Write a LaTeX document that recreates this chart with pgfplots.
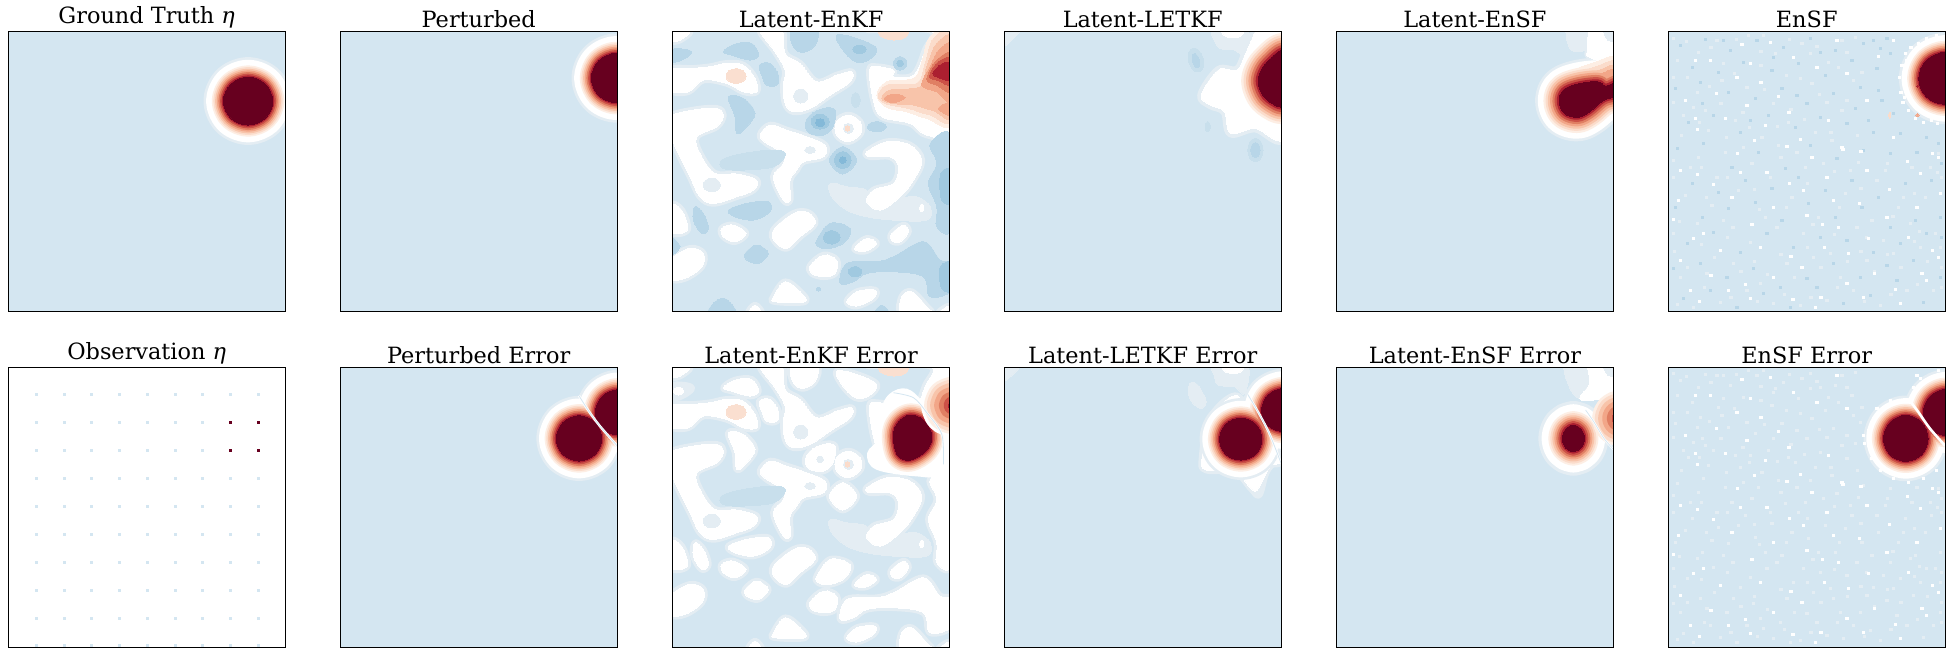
\documentclass[border=0pt]{standalone}
\usepackage{fontspec}
\setmainfont{DejaVu Serif}
\usepackage{pgfplots}
\usepackage{pgfplotstable}
\pgfplotsset{compat=1.18}
\definecolor{bg}{RGB}{212,230,241}
\definecolor{pl}{RGB}{228,237,243}
\definecolor{ra}{RGB}{253,238,228}
\definecolor{rb}{RGB}{251,220,203}
\definecolor{rc}{RGB}{248,196,170}
\definecolor{rd}{RGB}{242,166,136}
\definecolor{re}{RGB}{224,127,99}
\definecolor{rf}{RGB}{204,81,71}
\definecolor{rg}{RGB}{171,31,48}
\definecolor{rh}{RGB}{103,0,31}
\definecolor{ba}{RGB}{200,223,236}
\definecolor{bb}{RGB}{184,214,232}
\definecolor{bc}{RGB}{160,201,224}
\definecolor{bd}{RGB}{132,185,216}
\definecolor{pk}{RGB}{250,223,208}

\def\levels{pl/60,white/52,ra/35,rb/30,rc/25,rd/20,re/15,rf/10,rg/5,rh/0}
\def\redlevels{ra/35,rb/30,rc/25,rd/20,re/15,rf/10,rg/5,rh/0}

% small ellipse, radii in units of a third of a pixel
\newcommand{\disc}[6]{%
  \pgfmathsetmacro\sx{#3/3}\pgfmathsetmacro\sy{#4/3}%
  \edef\tmp{\noexpand\addplot[forget plot,only marks,mark=*,mark size=1pt,
    mark options={draw=#6,fill=#6,line width=0pt,rotate=#5,xscale=\sx,yscale=\sy}] coordinates {(#1,#2)};}\tmp}
% filled contour: colour, outward offset (third of a pixel), outline
\newcommand{\fillpoly}[3]{%
  \pgfmathsetmacro\lw{2*#2/3}%
  \edef\tmp{\noexpand\addplot[forget plot,smooth cycle,tension=0.6,mark=none,fill=#1,draw=#1,
    line join=round,line width=\lw pt] coordinates {#3};}\tmp}
\newcommand{\fillall}[3]{\foreach \p in {#3} {\fillpoly{#1}{#2}{\p}}}
\newcommand{\fillW}[2]{\foreach \p in \Wlist {\fillpoly{#1}{#2}{\p}}}
\newcommand{\polylevels}[2]{%
  \foreach \c/\e in \redlevels {\pgfmathsetmacro\ee{\e*#2}\fillpoly{\c}{\ee}{#1}}}
% whole peaks with their rings, level by level
\newcommand{\peaks}[2]{%
  \foreach \c/\e in \levels {\pgfmathsetmacro\ee{\e*#2}\foreach \q in {#1} {\fillpoly{\c}{\ee}{\q}}}}
\newcommand{\fade}[2]{\foreach \c/\e in {#2} {\fillpoly{\c}{\e}{#1}}}
\newcommand{\midline}[3]{%
  \addplot[forget plot,smooth,mark=none,white,line width=#1pt] coordinates {#3};
  \addplot[forget plot,smooth,mark=none,bg,line width=#2pt] coordinates {#3};}

% white patches of the Latent-EnKF field
\def\Wa{(30,30)(90,33)(60,60)(30,62)}
\def\Wb{(30,150)(100,145)(150,140)(200,130)(250,135)(285,175)(290,215)(250,215)(200,190)(130,180)(85,215)(30,210)}
\def\Wc{(300,30)(365,30)(375,100)(420,130)(470,185)(530,165)(575,155)(570,185)(510,225)(450,265)(400,275)(375,250)(370,195)(375,150)(345,95)}
\def\Wd{(625,30)(810,30)(795,90)(760,165)(700,170)(700,150)(650,140)(628,150)(640,240)(665,290)(750,310)(800,345)(875,325)(875,30)}
\def\We{(30,290)(100,270)(170,265)(190,285)(170,320)(110,350)(120,400)(165,460)(230,462)(290,480)(280,510)(230,530)(160,550)(120,530)(90,470)(60,410)(30,340)}
\def\Wf{(300,345)(330,315)(380,330)(440,350)(495,375)(490,410)(430,425)(410,450)(390,480)(390,540)(370,540)(340,470)(370,430)(370,400)(320,370)}
\def\Wg{(565,285)(600,305)(602,340)(565,365)(530,345)(528,305)}
\def\Wh{(620,395)(680,365)(750,375)(785,420)(760,480)(720,530)(660,570)(620,545)(640,510)(700,490)(715,440)(690,410)(630,410)}
\def\Wi{(30,555)(65,570)(82,630)(30,635)}
\def\Wj{(185,625)(220,615)(258,640)(225,665)(190,650)}
\def\Wk{(340,630)(400,580)(445,578)(465,610)(420,650)(380,685)(345,665)}
\def\Wl{(695,640)(730,615)(745,635)(720,665)(695,662)}
\def\Wm{(585,680)(620,655)(650,670)(620,692)(590,692)}
\def\Wn{(30,720)(90,685)(130,700)(125,740)(75,775)(30,775)}
\def\Wo{(450,737)(490,705)(530,720)(525,760)(490,770)(455,760)}
\def\Wp{(340,830)(375,785)(420,815)(435,845)(345,845)}
\def\Wq{(560,845)(590,815)(645,810)(640,835)(590,858)}
\def\Wr{(725,880)(725,830)(755,815)(800,860)(810,880)}
\def\Ws{(265,880)(285,855)(305,880)}
\def\Wt{(780,555)(790,555)(790,572)(780,572)}
\def\Wu{(835,880)(860,860)(875,860)(875,880)}
\def\Wlist{\Wa,\Wb,\Wc,\Wd,\We,\Wf,\Wg,\Wh,\Wi,\Wj,\Wk,\Wl,\Wm,\Wn,\Wo,\Wp,\Wq,\Wr,\Ws,\Wt,\Wu}
% light-blue patches of the same field
\def\Ba{(395,30)(470,30)(465,75)(430,97)(400,80)}
\def\Bb{(530,45)(590,55)(650,85)(625,120)(585,125)(545,85)}
\def\Bc{(190,95)(225,72)(275,70)(295,105)(270,120)(215,105)}
\def\Bd{(30,90)(75,88)(95,98)(65,120)(30,125)}
\def\Be{(298,135)(330,130)(355,165)(350,195)(320,195)(305,165)}
\def\Bf{(205,230)(250,235)(285,280)(255,325)(230,340)(225,290)}
\def\Bg{(435,315)(450,285)(490,265)(525,270)(518,320)(490,345)(450,340)}
\def\Bh{(548,380)(590,420)(548,462)(508,420)}
\def\Bi{(205,570)(260,550)(325,545)(330,575)(280,600)(225,590)}
\def\Bj{(105,560)(130,580)(145,625)(125,640)(100,600)}
\def\Bk{(470,660)(510,610)(570,625)(555,665)(510,685)(475,680)}
\def\Bl{(255,700)(290,675)(325,700)(295,730)(260,720)}
\def\Bm{(540,790)(560,730)(650,725)(700,710)(790,665)(840,720)(875,730)(875,810)(810,830)(790,770)(700,755)(620,760)(580,785)}
\def\Bn{(810,370)(875,350)(875,620)(830,620)(830,560)(805,490)(830,430)}
\def\Bo{(145,885)(165,845)(200,838)(228,885)}
\def\Bp{(640,885)(665,855)(690,885)}
\def\Bq{(30,650)(60,680)(30,705)}
\def\Bband{(185,420)(250,400)(350,390)(375,405)(340,440)(250,450)(190,445)}
\def\Pa{(510,490)(560,500)(620,510)(625,545)(660,575)(710,540)(770,530)(810,560)(800,600)(700,600)(620,590)(560,570)(515,530)}
\def\Tp{(655,30)(700,28)(742,30)(735,52)(700,60)(665,50)}

% speckle of the EnSF fields, read off by eye
\pgfplotstableread[row sep=\\]{x y\\
105 120\\230 172\\302 186\\104 295\\110 327\\315 316\\282 360\\232 400\\545 380\\548 388\\420 358\\380 378\\60 450\\110 462\\388 490\\55 540\\40 596\\597 550\\
152 766\\255 792\\270 835\\398 838\\118 843\\465 860\\482 830\\642 760\\392 708\\492 680\\487 612\\535 620\\440 585\\720 850\\705 808\\818 690\\835 712\\785 760\\
800 780\\818 398\\835 412\\742 422\\602 392\\688 508\\386 275\\260 256\\245 72\\330 66\\168 218\\75 240\\195 295\\355 228\\470 142\\560 158\\
505 300\\455 410\\160 492\\215 530\\340 560\\275 612\\100 655\\180 690\\60 720\\130 640\\340 770\\425 742\\565 700\\625 655\\680 590\\770 560\\840 520\\745 650\\
610 830\\560 790\\205 810\\90 810\\300 680\\240 455\\320 455\\500 470\\620 450\\780 460\\520 540\\430 510\\150 120\\400 110\\530 60\\270 130\\
}\SpeckWhite
\pgfplotstableread[row sep=\\]{x y\\
60 75\\135 58\\210 90\\290 60\\370 82\\450 55\\525 90\\95 140\\175 155\\250 125\\335 150\\415 130\\495 165\\575 120\\45 205\\
125 250\\205 215\\285 235\\365 205\\440 250\\520 220\\600 200\\85 305\\160 285\\240 335\\325 285\\405 320\\480 290\\560 310\\
50 385\\130 370\\215 440\\295 395\\375 445\\450 375\\530 415\\610 390\\690 400\\770 395\\845 430\\95 490\\175 515\\255 480\\335 505\\415 470\\495 510\\575 480\\
655 530\\735 490\\815 480\\45 560\\125 590\\205 565\\285 545\\365 600\\445 550\\525 590\\605 560\\690 620\\765 600\\840 590\\80 670\\160 635\\240 695\\320 640\\
400 680\\480 650\\560 660\\640 695\\720 670\\800 640\\40 745\\120 730\\200 770\\280 745\\360 800\\440 775\\520 730\\600 770\\680 735\\760 720\\840 770\\
70 835\\150 810\\230 860\\310 820\\390 860\\470 800\\550 850\\630 825\\710 780\\790 845\\843 650\\190 60\\340 110\\480 95\\120 185\\270 300\\410 225\\585 265\\
}\SpeckBlue
\pgfplotstableread[row sep=\\]{x y\\
40 55\\115 95\\190 130\\265 45\\345 100\\425 70\\505 125\\585 50\\38 170\\110 215\\185 180\\260 200\\340 250\\420 175\\500 245\\580 180\\
70 285\\145 330\\225 300\\305 350\\385 305\\465 335\\545 270\\38 420\\115 410\\195 395\\275 430\\355 375\\435 440\\515 360\\595 425\\675 450\\755 440\\835 400\\
75 525\\155 555\\235 510\\315 590\\395 530\\475 590\\555 520\\635 600\\715 560\\795 530\\843 470\\38 640\\110 610\\190 600\\270 665\\350 620\\430 640\\510 700\\590 620\\670 660\\750 610\\825 640\\
60 770\\140 760\\220 730\\300 790\\380 730\\460 710\\540 770\\620 720\\700 700\\780 680\\843 740\\100 860\\180 845\\260 810\\340 850\\420 855\\500 840\\580 810\\660 855\\740 810\\820 810\\
90 440\\170 470\\250 380\\330 470\\410 395\\490 430\\570 450\\650 480\\730 530\\810 440\\170 60\\310 45\\450 100\\560 95\\50 120\\135 270\\
78 62\\152 82\\228 58\\302 92\\388 58\\470 78\\545 60\\82 172\\148 198\\222 160\\302 135\\378 165\\455 188\\535 140\\605 155\\38 245\\
98 262\\182 248\\248 275\\312 208\\392 268\\478 222\\560 240\\62 345\\118 305\\198 352\\268 322\\352 318\\432 298\\512 335\\592 345\\
38 472\\122 440\\202 472\\282 508\\362 412\\442 488\\522 452\\602 505\\682 428\\762 520\\832 455\\58 602\\138 532\\218 622\\298 568\\378 560\\458 612\\538 562\\618 652\\698 588\\778 632\\
42 692\\122 672\\202 652\\282 722\\362 702\\442 682\\522 642\\602 692\\682 702\\762 662\\842 682\\82 742\\162 712\\242 752\\322 762\\402 772\\482 742\\562 722\\642 752\\722 742\\802 722\\
52 852\\132 802\\212 832\\292 842\\372 822\\452 832\\532 802\\612 842\\692 822\\772 792\\843 802\\
}\SpeckPale
% the corner by the peak, one list for each EnSF panel
\pgfplotstableread[row sep=\\]{x y\\
752 80\\735 100\\725 135\\718 170\\722 215\\728 245\\745 270\\765 295\\790 305\\815 300\\832 308\\775 70\\800 55\\830 45\\738 120\\732 230\\655 108\\620 240\\700 60\\700 350\\
}\RimTop
\pgfplotstableread[row sep=\\]{x y\\
650 145\\665 240\\640 335\\610 68\\680 55\\690 100\\625 300\\660 85\\655 210\\700 280\\640 60\\720 340\\800 350\\835 370\\
}\CornerTop
\pgfplotstableread[row sep=\\]{x y\\
640 190\\625 225\\612 265\\635 310\\660 345\\700 370\\745 380\\790 368\\830 345\\780 70\\760 95\\650 160\\690 135\\770 60\\835 45\\610 240\\
}\RimBottom

\pgfplotsset{pan/.style={scale only axis,width=276.8pt,height=280pt,xtick=\empty,ytick=\empty,
  y dir=reverse,enlargelimits=false,axis on top,clip mode=global,axis background/.style={fill=bg},
  axis line style={line width=0.9pt,black},
  title style={font=\fontsize{22.4}{24}\selectfont,yshift=-5.5pt}}}
\newcommand{\speck}[2]{\addplot[forget plot,only marks,mark=square*,mark size=1.08pt,
  mark options={draw=#1,fill=#1,line width=0.1pt}] table[x=x,y=y] {#2};}

\begin{document}
\begin{tikzpicture}[x=1pt,y=1pt]
\path[use as bounding box] (0,0) rectangle (1948,649);

% ---- top row ----
\begin{axis}[pan,at={(8.3pt,337.3pt)},title={Ground Truth {\itshape η}},xmin=0,xmax=830,ymin=0,ymax=840]
\def\Pp{(793,208)(771,157)(719,136)(667,157)(645,208)(667,259)(719,280)(771,259)}
\peaks{\Pp}{1}
\end{axis}
\begin{axis}[pan,at={(340.3pt,337.3pt)},title={Perturbed},xmin=0,xmax=830,ymin=0,ymax=840]
\def\Pp{(901,139)(879,87)(827,65)(775,87)(753,139)(775,191)(827,213)(879,191)}
\peaks{\Pp}{1}
\end{axis}

\begin{axis}[pan,at={(672.7pt,337.3pt)},title={Latent-EnKF},xmin=38,xmax=868,ymin=35,ymax=875]
\fillW{pl}{10}
\fillpoly{pl}{0}{\Pa}
\fillW{white}{0}
\fillpoly{ba}{0}{\Bband}
\fillall{bb}{0}{\Ba,\Bb,\Bc,\Bd,\Be,\Bf,\Bg,\Bh,\Bi,\Bj,\Bk,\Bl,\Bm,\Bn,\Bo,\Bp,\Bq}
\fillpoly{bc}{0}{(840,740)(880,730)(880,810)(845,805)}
\fillpoly{bc}{0}{(842,460)(880,450)(880,545)(845,540)}
\fillpoly{pk}{0}{\Tp}
\fillpoly{ra}{0}{(650,225)(680,185)(760,175)(785,125)(810,50)(880,30)(880,305)(800,295)(740,275)(680,262)}
\fillpoly{rb}{0}{(655,230)(680,195)(770,190)(795,130)(820,55)(880,40)(880,295)(810,285)(745,265)(680,252)}
\fillpoly{rc}{0}{(665,235)(690,210)(780,200)(800,140)(830,70)(880,60)(880,285)(820,272)(760,255)(695,250)}
\fillpoly{rd}{0}{(672,235)(700,222)(735,232)(700,248)}
\fillpoly{rd}{0}{(835,265)(880,245)(880,290)}
\fillpoly{rd}{0}{(785,195)(812,135)(838,88)(880,78)(880,245)(830,215)}
\fillpoly{re}{0}{(800,178)(828,122)(880,100)(880,215)(830,195)}
\fillpoly{rf}{0}{(808,168)(835,125)(880,115)(880,195)(835,182)}
\fillpoly{rg}{0}{(818,160)(845,132)(880,130)(880,180)(842,175)}
\disc{422}{228}{21}{21}{0}{pl}
\disc{155}{495}{26}{20}{0}{pl}
\disc{450}{390}{16}{10}{0}{pl}
\disc{565}{325}{15}{15}{0}{pl}
\disc{587}{240}{13}{22}{0}{ba}
\disc{598}{88}{20}{12}{0}{bc}
\disc{480}{305}{27}{22}{0}{bc}
\disc{480}{308}{14}{12}{0}{bd}
\disc{548}{420}{25}{25}{0}{bc}
\disc{548}{420}{10}{10}{0}{bd}
\disc{650}{320}{28}{15}{0}{bb}
\disc{720}{130}{20}{20}{0}{bb}
\disc{720}{130}{10}{10}{0}{bc}
\disc{515}{652}{25}{20}{0}{bc}
\disc{585}{755}{20}{15}{0}{bc}
\disc{475}{807}{6}{6}{0}{bb}
\disc{228}{168}{30}{22}{0}{pk}
\disc{562}{325}{7}{8}{0}{rb}
\end{axis}

\begin{axis}[pan,at={(1004.3pt,337.3pt)},title={Latent-LETKF},xmin=35,xmax=714,ymin=35,ymax=875]
\fillpoly{pl}{0}{(25,25)(75,25)(40,75)(25,75)}
\fillpoly{pl}{0}{(548,25)(630,25)(625,105)(600,90)(565,85)(550,60)}
\fillpoly{pl}{12}{(660,25)(725,25)(725,345)(650,325)(590,340)(575,275)(540,255)(518,225)(560,150)(605,150)(625,105)(640,65)}
\fillpoly{white}{0}{(660,25)(725,25)(725,345)(650,325)(590,340)(575,275)(540,255)(518,225)(560,150)(605,150)(625,105)(640,65)}
\fillpoly{white}{0}{(570,30)(620,30)(612,50)(580,50)}
\def\Pd{(725,90)(680,125)(660,165)(660,200)(680,240)(725,258)(760,170)}
\polylevels{\Pd}{1.45}
\disc{505}{120}{22}{37}{15}{ba}
\disc{505}{122}{10}{22}{15}{bb}
\disc{651}{390}{23}{35}{0}{ba}
\disc{651}{390}{14}{22}{0}{bb}
\disc{534}{320}{8}{15}{0}{ba}
\end{axis}

\begin{axis}[pan,at={(1336.5pt,337.3pt)},title={Latent-EnSF},xmin=849,xmax=1528,ymin=35,ymax=875]
\fillpoly{pl}{0}{(1415,25)(1475,25)(1465,85)(1425,90)}
\def\Pe{(1395,245)(1405,210)(1440,192)(1490,185)(1510,198)(1540,185)(1540,225)(1505,240)(1470,275)(1440,292)(1408,280)}
\fillpoly{pl}{7}{(1475,25)(1540,25)(1540,125)(1470,112)(1465,85)}
\fillpoly{pl}{72}{\Pe}
\fillpoly{white}{0}{(1475,25)(1540,25)(1540,125)(1470,112)(1465,85)}
\fillpoly{white}{64}{\Pe}
\fillpoly{pl}{0}{(1505,25)(1540,25)(1540,60)(1515,60)}
\fade{\Pe}{ra/47}
\fillpoly{ra}{0}{(1385,225)(1420,160)(1480,128)(1540,112)(1540,210)(1420,250)}
\fade{\Pe}{rb/40.5}
\fillpoly{rb}{0}{(1395,225)(1428,170)(1485,140)(1540,124)(1540,210)(1420,245)}
\fade{\Pe}{rc/34}
\fillpoly{rc}{0}{(1402,225)(1436,178)(1490,152)(1540,136)(1540,210)(1420,240)}
\fade{\Pe}{rd/27}
\fillpoly{rd}{0}{(1408,225)(1442,185)(1495,162)(1540,148)(1540,210)(1420,235)}
\fade{\Pe}{re/20,rf/13.5,rg/7,rh/0}
\end{axis}

\begin{axis}[pan,at={(1668.3pt,337.3pt)},title={EnSF},xmin=25,xmax=856,ymin=35,ymax=875]
\def\Pp{(937,175)(914,120)(857,97)(800,120)(777,175)(800,230)(857,253)(914,230)}
\peaks{\Pp}{1}
\speck{pl}{\SpeckPale}
\speck{bb}{\SpeckBlue}
\speck{bb}{\CornerTop}
\speck{white}{\SpeckWhite}
\speck{white}{\RimTop}
\disc{773}{285}{5}{5}{0}{rd}
\disc{690}{285}{3}{9}{0}{rb}
\disc{773}{198}{3}{3}{0}{rg}
\end{axis}

% ---- bottom row ----
\begin{axis}[pan,at={(8.3pt,1.3pt)},xmin=25,xmax=854,ymin=38,ymax=878,axis background/.style={fill=white},title={Observation {\itshape η}}]
\addplot[forget plot,only marks,mark=square*,mark size=1pt,mark options={draw=bg,fill=bg,line width=0.1pt}] table[x=x,y=y,row sep=\\] {x y\\
108 118\\191 118\\274 118\\357 118\\440 118\\523 118\\606 118\\689 118\\772 118\\
108 201\\191 201\\274 201\\357 201\\440 201\\523 201\\606 201\\
108 285\\191 285\\274 285\\357 285\\440 285\\523 285\\606 285\\
108 369\\191 369\\274 369\\357 369\\440 369\\523 369\\606 369\\689 369\\772 369\\
108 453\\191 453\\274 453\\357 453\\440 453\\523 453\\606 453\\689 453\\772 453\\
108 537\\191 537\\274 537\\357 537\\440 537\\523 537\\606 537\\689 537\\772 537\\
108 621\\191 621\\274 621\\357 621\\440 621\\523 621\\606 621\\689 621\\772 621\\
108 705\\191 705\\274 705\\357 705\\440 705\\523 705\\606 705\\689 705\\772 705\\
108 789\\191 789\\274 789\\357 789\\440 789\\523 789\\606 789\\689 789\\772 789\\
108 870\\191 870\\274 870\\357 870\\440 870\\523 870\\606 870\\689 870\\772 870\\
};
\addplot[forget plot,only marks,mark=square*,mark size=1pt,mark options={draw=rh,fill=rh,line width=0.1pt}] coordinates {(689,201)(772,201)(689,285)(772,285)};
\end{axis}

\begin{axis}[pan,at={(340.3pt,1.3pt)},title={Perturbed Error},xmin=31,xmax=859,ymin=38,ymax=878]
\def\Pl{(813,250)(793,202)(745,182)(697,202)(677,250)(697,298)(745,318)(793,298)}
\def\Pr{(930,172)(910,124)(862,104)(814,124)(794,172)(814,220)(862,240)(910,220)}
\peaks{\Pl,\Pr}{1}
\midline{2.4}{0.8}{(745,122)(772,165)(805,210)(850,262)(870,285)}
\end{axis}

\begin{axis}[pan,at={(672.7pt,1.3pt)},title={Latent-EnKF Error},xmin=38,xmax=868,ymin=35,ymax=875]
\fillW{pl}{10}
\fillpoly{pl}{0}{\Pa}
\fillall{pl}{10}{\Ba,\Bb,\Bc,\Bd,\Be,\Bf,\Bg,\Bh,\Bj,\Bk,\Bl,\Bm,\Bn,\Bi}
\fillW{white}{0}
\fillall{white}{0}{\Ba,\Bb,\Bc,\Be,\Bf,\Bg,\Bh,\Bj,\Bk,\Bl,\Bm,\Bn,\Bi}
\fillpoly{ba}{0}{\Bband}
\fillpoly{pk}{0}{\Tp}
\fillpoly{white}{4}{(690,117)(740,102)(790,147)(845,232)(830,347)(770,357)(650,337)(625,292)(660,247)(665,167)}
\def\Pf{(700,237)(715,197)(750,177)(790,192)(815,237)(800,282)(750,312)(712,297)}
\polylevels{\Pf}{1}
\def\Pg{(892,148)(888,138)(878,134)(868,138)(864,148)(868,158)(878,162)(888,158)}
\fade{\Pg}{white/81,ra/72,rb/64,rc/54,rd/42,re/28,rf/14,rg/0}
\midline{2}{0.8}{(700,110)(760,125)(800,170)(845,235)(850,325)}
\disc{55}{105}{16}{12}{0}{white}
\disc{422}{228}{21}{21}{0}{pl}
\disc{155}{495}{26}{20}{0}{pl}
\disc{450}{390}{16}{10}{0}{pl}
\disc{565}{325}{15}{15}{0}{pl}
\disc{480}{310}{10}{10}{0}{pl}
\disc{646}{162}{16}{20}{0}{white}
\disc{228}{168}{30}{22}{0}{pk}
\disc{562}{325}{7}{8}{0}{rb}
\end{axis}

\begin{axis}[pan,at={(1004.3pt,1.3pt)},title={Latent-LETKF Error},xmin=35,xmax=714,ymin=38,ymax=878]
\fillpoly{pl}{0}{(25,28)(75,28)(40,75)(25,75)}
\fillpoly{pl}{0}{(548,28)(630,28)(625,115)(600,95)(560,90)(550,60)}
\fillpoly{pl}{0}{(490,85)(510,90)(530,140)(515,160)(490,130)}
\fillpoly{pl}{10}{(600,122)(640,175)(690,260)(712,320)(690,330)(675,360)(660,420)(640,400)(600,350)(530,345)(520,310)(540,190)}
\fillpoly{white}{0}{(600,122)(640,175)(690,260)(712,320)(690,330)(675,360)(655,405)(640,400)(600,350)(530,345)(520,310)(540,190)}
\fillpoly{white}{0}{(570,30)(620,30)(612,52)(580,52)}
\def\Pl{(667,252)(652,207)(615,189)(578,207)(563,252)(578,297)(615,315)(652,297)}
\def\Pr{(778,165)(762,119)(722,100)(682,119)(666,165)(682,211)(722,230)(762,211)}
\peaks{\Pl,\Pr}{1}
\midline{2.2}{0.8}{(632,118)(655,165)(685,235)(714,325)}
\end{axis}

\begin{axis}[pan,at={(1336.5pt,1.3pt)},title={Latent-EnSF Error},xmin=849,xmax=1528,ymin=38,ymax=878]
\fillpoly{pl}{0}{(1410,28)(1475,28)(1470,85)(1445,130)(1420,95)}
\fillpoly{white}{0}{(1470,28)(1540,28)(1540,115)(1478,135)(1445,130)(1470,85)}
\fillpoly{pl}{0}{(1505,28)(1540,28)(1540,60)(1515,60)}
\def\Pl{(1457,250)(1449,222)(1430,210)(1411,222)(1403,250)(1411,278)(1430,290)(1449,278)}
\peaks{\Pl}{1.2}
\def\Pg{(1565,190)(1559,173)(1545,166)(1531,173)(1525,190)(1531,207)(1545,214)(1559,207)}
\fade{\Pg}{ra/60,rb/52,rc/42,rd/30,re/16,rf/0}
\midline{2}{0.7}{(1460,165)(1480,200)(1505,250)(1530,285)}
\end{axis}

\begin{axis}[pan,at={(1668.3pt,1.3pt)},title={EnSF Error},xmin=25,xmax=856,ymin=38,ymax=878]
\def\Pl{(805,250)(785,201)(738,181)(691,201)(671,250)(691,299)(738,319)(785,299)}
\def\Pr{(934,172)(913,123)(862,102)(811,123)(790,172)(811,221)(862,242)(913,221)}
\peaks{\Pl,\Pr}{1}
\addplot[forget plot,smooth,mark=none,white,line width=2.6pt] coordinates {(745,130)(775,170)(810,220)(856,272)};
\speck{pl}{\SpeckPale}
\speck{pl}{\SpeckBlue}
\speck{white}{\SpeckWhite}
\speck{white}{\RimBottom}
\end{axis}
\end{tikzpicture}
\end{document}
